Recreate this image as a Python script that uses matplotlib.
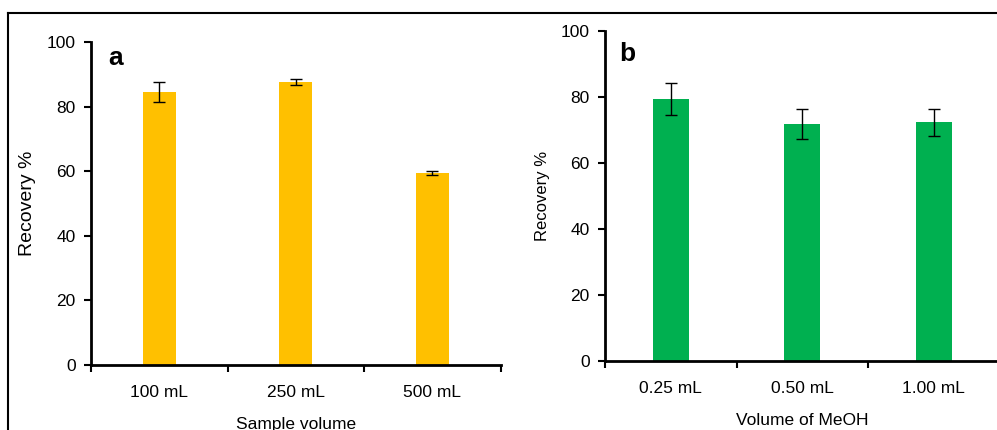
import numpy as np
import matplotlib
matplotlib.use("Agg")
import matplotlib.pyplot as plt
from matplotlib.lines import Line2D

plt.rcParams["font.family"] = ["Liberation Sans", "DejaVu Sans"]

# ── Data ─────────────────────────────────────────────────────────────
vol_labels   = ["100 mL", "250 mL", "500 mL"]
vol_recovery = [84.6, 87.6, 59.4]
vol_err      = [3.1, 0.9, 0.6]

meoh_labels   = ["0.25 mL", "0.50 mL", "1.00 mL"]
meoh_recovery = [79.3, 71.9, 72.3]
meoh_err      = [4.8, 4.6, 4.1]

W, H = 997, 430
fig = plt.figure(figsize=(W / 100, H / 100), dpi=100)


def panel(rect, labels, vals, errs, color, bar_w, xlabel, letter,
          letter_xy, ylab_size, ylab_pad):
    ax = fig.add_axes(rect)
    x = np.arange(len(labels))
    ax.bar(x, vals, width=bar_w, color=color, zorder=2)
    ax.errorbar(x, vals, yerr=errs, fmt="none", ecolor="black",
                elinewidth=1.0, capsize=4, capthick=1.0, zorder=3)
    ax.set_xlim(-0.5, len(labels) - 0.5)
    ax.set_ylim(0, 100)
    ax.set_yticks(np.arange(0, 101, 20))
    ax.set_xticks(np.arange(-0.5, len(labels), 1.0))
    ax.set_xticklabels([])
    ax.set_xticks(x, minor=True)
    ax.set_xticklabels(labels, minor=True, fontsize=12.5)
    ax.tick_params(axis="x", which="minor", length=0, pad=14.5)
    ax.tick_params(axis="x", which="major", length=5, width=1.5,
                   direction="out")
    ax.tick_params(axis="y", length=5, width=1.5, labelsize=12.5, pad=6)
    for s in ["top", "right"]:
        ax.spines[s].set_visible(False)
    for s in ["left", "bottom"]:
        ax.spines[s].set_linewidth(2)
    ax.set_xlabel(xlabel, fontsize=12.5, labelpad=12)
    ax.set_ylabel("Recovery %", fontsize=ylab_size, labelpad=ylab_pad)
    ax.text(letter_xy[0], letter_xy[1], letter, transform=ax.transAxes,
            fontsize=19, fontweight="bold", ha="left", va="center")
    return ax


# ── Panel a: Sample volume ───────────────────────────────────────────
panel([91 / W, 1 - 365 / H, 409.5 / W, 323 / H],
      vol_labels, vol_recovery, vol_err, "#FFC000", 0.24,
      "Sample volume", "a", (0.042, 0.95), 14, 8)

# ── Panel b: Volume of MeOH ──────────────────────────────────────────
panel([605 / W, 1 - 361 / H, 394.5 / W, 330 / H],
      meoh_labels, meoh_recovery, meoh_err, "#00B050", 0.27,
      "Volume of MeOH", "b", (0.035, 0.93), 12, 8)

# ── Frame lines ──────────────────────────────────────────────────────
fig.add_artist(Line2D([8 / W, 1], [1 - 13 / H, 1 - 13 / H],
                      transform=fig.transFigure, color="black", lw=1.5))
fig.add_artist(Line2D([8 / W, 8 / W], [0, 1 - 13 / H],
                      transform=fig.transFigure, color="black", lw=1.5))

fig.savefig("out.png", dpi=100)
